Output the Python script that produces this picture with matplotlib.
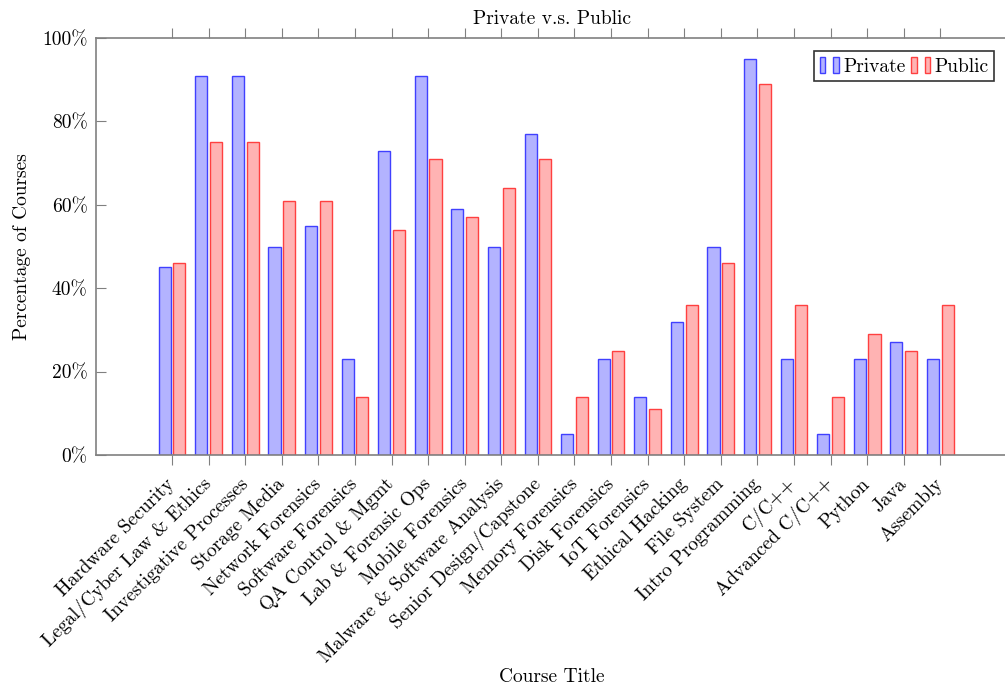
import matplotlib.pyplot as plt
import numpy as np
from matplotlib.ticker import FuncFormatter
from matplotlib.patches import Rectangle
from matplotlib.legend_handler import HandlerBase

courses = ["Hardware Security", "Legal/Cyber Law & Ethics", "Investigative Processes",
           "Storage Media", "Network Forensics", "Software Forensics",
           "QA Control & Mgmt", "Lab & Forensic Ops", "Mobile Forensics",
           "Malware & Software Analysis", "Senior Design/Capstone", "Memory Forensics",
           "Disk Forensics", "IoT Forensics", "Ethical Hacking", "File System",
           "Intro Programming", "C/C++", "Advanced C/C++", "Python", "Java", "Assembly"]
private = [45, 91, 91, 50, 55, 23, 73, 91, 59, 50, 77, 5, 23, 14, 32, 50, 95, 23, 5, 23, 27, 23]
public = [46, 75, 75, 61, 61, 14, 54, 71, 57, 64, 71, 14, 25, 11, 36, 46, 89, 36, 14, 29, 25, 36]


class TwoBars(HandlerBase):
    # legend key drawn as a pair of small bars
    def create_artists(self, legend, orig, xd, yd, width, height, fontsize, trans):
        fc = orig.get_facecolor()
        ec = orig.get_edgecolor()
        bw = width * 0.3
        arts = []
        for x0 in (0, width - bw):
            r = Rectangle((x0 - xd, -yd), bw, height, facecolor=fc, edgecolor=ec,
                          linewidth=1, transform=trans)
            arts.append(r)
        return arts


plt.rcParams['font.family'] = ['cmr10', 'DejaVu Serif']
plt.rcParams['axes.formatter.use_mathtext'] = True
plt.rcParams['font.size'] = 14

fig = plt.figure(figsize=(10.05, 6.85), dpi=100)
ax = fig.add_axes([96 / 1005, 1 - 455 / 685, 912 / 1005, 417 / 685])

x = np.arange(len(courses))
w = 0.33
b1 = ax.bar(x - 0.2, private, w, color='#b3b3ff', edgecolor='#4040ff', linewidth=1, label='Private')
b2 = ax.bar(x + 0.2, public, w, color='#ffb3b3', edgecolor='#ff4040', linewidth=1, label='Public')

ax.set_xlim(-2.08, 22.85)
ax.set_ylim(0, 100)
ax.set_yticks(range(0, 101, 20))
ax.yaxis.set_major_formatter(FuncFormatter(lambda v, p: '%d%%' % v))
ax.set_xticks(x)
ax.set_xticklabels(courses, rotation=45, ha='right', va='center', rotation_mode='anchor')

for s in ['left', 'bottom', 'top']:
    ax.spines[s].set_color('#808080')
    ax.spines[s].set_linewidth(1.2)
ax.spines['right'].set_visible(False)
ax.tick_params(axis='x', direction='out', top=True, length=7, color='#808080', pad=12)
ax.tick_params(axis='y', direction='in', length=7, color='#808080', pad=6)

ax.set_title('Private v.s. Public', fontsize=14, pad=10)
ax.set_xlabel('Course Title')
ax.xaxis.set_label_coords(0.5, -(677 - 455) / 417)
ax.xaxis.label.set_va('center')
ax.set_ylabel('Percentage of Courses', labelpad=8)

leg = ax.legend(handles=[b1[0], b2[0]], labels=['Private', 'Public'],
                handler_map={b1[0]: TwoBars(), b2[0]: TwoBars()},
                loc='upper right', ncol=2, fancybox=False, edgecolor='#333333',
                handlelength=1.0, handleheight=0.9, handletextpad=0.2,
                columnspacing=0.3, borderpad=0.3, framealpha=1, borderaxespad=0,
                bbox_to_anchor=(0.985, 0.969))
leg.get_frame().set_linewidth(1.2)

fig.savefig('out.png', dpi=100)
